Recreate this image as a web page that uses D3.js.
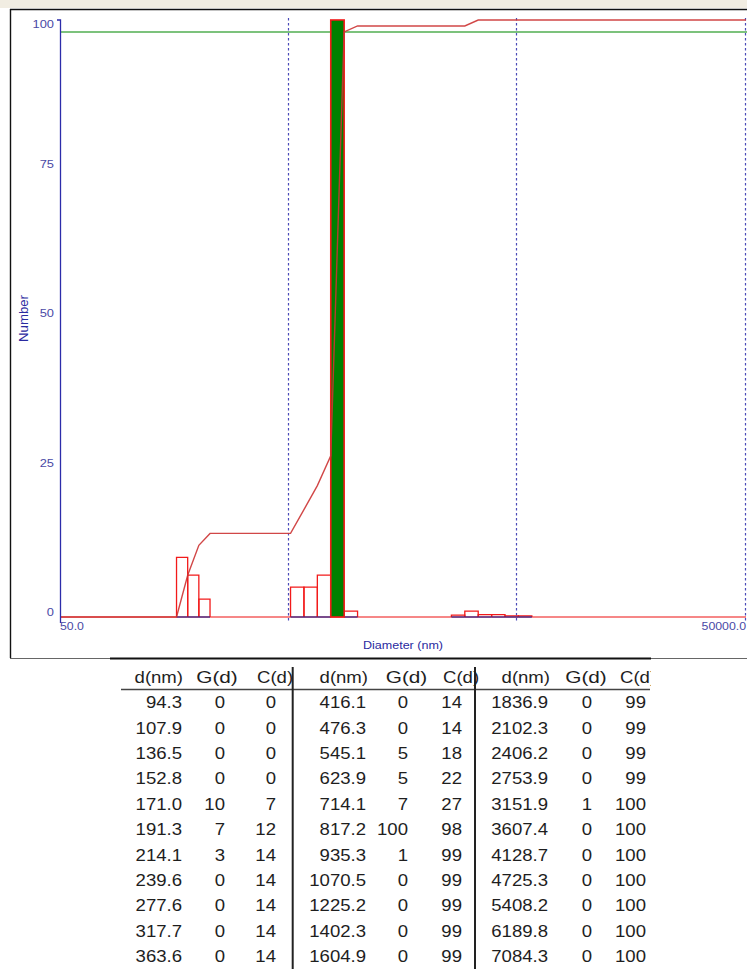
<!DOCTYPE html>
<html>
<head>
<meta charset="utf-8">
<script src="https://cdn.jsdelivr.net/npm/d3@7"></script>
<style>
  body { margin: 0; background: #fff; }
  svg { display: block; }
</style>
</head>
<body>
<svg id="chart" width="747" height="969"></svg>
<script>
// Size classes (nm), number distribution G(d) and cumulative C(d)
const diameters = [94.3, 107.9, 136.5, 152.8, 171.0, 191.3, 214.1, 239.6, 277.6, 317.7, 363.6,
                   416.1, 476.3, 545.1, 623.9, 714.1, 817.2, 935.3, 1070.5, 1225.2, 1402.3, 1604.9,
                   1836.9, 2102.3, 2406.2, 2753.9, 3151.9, 3607.4, 4128.7, 4725.3, 5408.2, 6189.8, 7084.3];
const numberG = [0, 0, 0, 0, 10, 7, 3, 0, 0, 0, 0,
                 0, 0, 5, 5, 7, 100, 1, 0, 0, 0, 0,
                 0, 0, 0, 0.3, 1, 0.4, 0.4, 0.2, 0.2, 0, 0];
const cumulativeC = [0, 0, 0, 0, 7, 12, 14, 14, 14, 14, 14,
                     14, 14, 18, 22, 27, 98, 99, 99, 99, 99, 99,
                     99, 99, 99, 99, 100, 100, 100, 100, 100, 100, 100];
const selectedDiameter = 817.2;
const xDomain = [50, 50000];
const xTickLabels = ["50.0", "50000.0"];
const yTicks = [0, 25, 50, 75, 100];
const guideDiameters = [500, 5000, 50000];
const tableHeaders = ["d(nm)", "G(d)", "C(d)"];
const rowsPerBlock = 11;

const svg = d3.select("#chart");
const FONT = "'Liberation Sans', Arial, sans-serif";
const NAVY = "#2c2caa";
const LABEL = "#4a4aa6";

// text helper: places a label with a slight horizontal stretch
function label(parent, tx, ty, str, opts) {
  const o = Object.assign({ anchor: "start", size: 11, fill: "#000", sx: 1.12, rotate: 0 }, opts || {});
  return parent.append("text")
    .attr("transform", `translate(${tx},${ty})` + (o.rotate ? ` rotate(${o.rotate})` : "") + ` scale(${o.sx},1)`)
    .attr("text-anchor", o.anchor).attr("dominant-baseline", "central")
    .attr("font-family", FONT).attr("font-size", o.size).attr("fill", o.fill)
    .text(str);
}

const x = d3.scaleLog().domain(xDomain).range([60, 746]);
const y = d3.scaleLinear().domain([0, 100]).range([617, 20]);

// frame of the graph panel
svg.append("rect").attr("x", 0).attr("y", 0).attr("width", 747).attr("height", 8).attr("fill", "#f1ede2");
svg.append("line").attr("x1", 10).attr("x2", 747).attr("y1", 9.5).attr("y2", 9.5)
  .attr("stroke", "#111").attr("stroke-width", 1.6);
svg.append("line").attr("x1", 10.5).attr("x2", 10.5).attr("y1", 9).attr("y2", 658)
  .attr("stroke", "#111").attr("stroke-width", 1.4);
svg.append("line").attr("x1", 10).attr("x2", 747).attr("y1", 658.5).attr("y2", 658.5)
  .attr("stroke", "#666").attr("stroke-width", 1);

// bin edges: geometric midpoints between neighbouring classes
const n = diameters.length;
const edges = diameters.map((d, i) => {
  const lo = i > 0 ? Math.sqrt(diameters[i - 1] * d) : d / Math.sqrt(diameters[1] / d);
  const hi = i < n - 1 ? Math.sqrt(d * diameters[i + 1]) : d * Math.sqrt(d / diameters[i - 1]);
  return [lo, hi];
});
const bins = diameters.map((d, i) => ({ d, g: numberG[i], c: cumulativeC[i], lo: edges[i][0], hi: edges[i][1] }));

// dotted decade guides
svg.append("g").selectAll("line").data(guideDiameters).join("line")
  .attr("x1", d => Math.round(x(d)) - 0.5).attr("x2", d => Math.round(x(d)) - 0.5)
  .attr("y1", 18).attr("y2", 621)
  .attr("stroke", "#4a4ab8").attr("stroke-width", 1.2).attr("stroke-dasharray", "2.5,2.5");

// reference level at the selected class' cumulative value
const selected = bins.find(b => b.d === selectedDiameter);
svg.append("line").attr("x1", 60).attr("x2", 747)
  .attr("y1", y(selected.c)).attr("y2", y(selected.c))
  .attr("stroke", "#7cc27c").attr("stroke-width", 2);

// baseline
svg.append("line").attr("x1", 60).attr("x2", 746).attr("y1", y(0)).attr("y2", y(0))
  .attr("stroke", "#ee1111").attr("stroke-width", 1.2);

// distribution bars (outlined)
const shown = bins.filter(b => b.g > 0 && b.d !== selectedDiameter);
const barG = svg.append("g");
barG.selectAll("path.bar").data(shown).join("path")
  .attr("class", "bar")
  .attr("d", b => `M${x(b.lo)},${y(0)}V${y(b.g)}H${x(b.hi)}V${y(0)}`)
  .attr("fill", "none").attr("stroke", "#f21a1a").attr("stroke-width", 1.3);
barG.selectAll("line.base").data(shown).join("line")
  .attr("class", "base")
  .attr("x1", b => x(b.lo)).attr("x2", b => x(b.hi)).attr("y1", y(0)).attr("y2", y(0))
  .attr("stroke", "#262690").attr("stroke-width", 1.2);

// selected class
svg.append("rect")
  .attr("x", x(selected.lo)).attr("y", y(selected.g))
  .attr("width", x(selected.hi) - x(selected.lo)).attr("height", y(0) - y(selected.g))
  .attr("fill", "#008000").attr("stroke", "#f21a1a").attr("stroke-width", 1.6);

// cumulative curve
const cumPts = [[xDomain[0], 0], [bins[0].lo, 0]]
  .concat(bins.map(b => [b.hi, b.c]))
  .concat([[xDomain[1], cumulativeC[n - 1]]]);
svg.append("path")
  .attr("d", d3.line().x(p => x(p[0])).y(p => y(p[1]))(cumPts))
  .attr("fill", "none").attr("stroke", "#cc3333").attr("stroke-width", 1.4)
  .attr("stroke-opacity", 0.9);

// y axis
svg.append("path").attr("d", `M57,${y(100)}H60.5V${y(0) + 6}`)
  .attr("fill", "none").attr("stroke", NAVY).attr("stroke-width", 1.3);
const yLab = svg.append("g");
yTicks.forEach(v => label(yLab, 54, Math.max(y(v) - 5, 24), v, { anchor: "end", size: 11.5, fill: LABEL }));
label(svg, 24, y(50), "Number", { anchor: "middle", size: 12, fill: "#2a2aa0", rotate: -90, sx: 1.1 });

// x labels
label(svg, x(xDomain[0]), 626, xTickLabels[0], { anchor: "start", size: 11, fill: LABEL });
label(svg, x(xDomain[1]), 626, xTickLabels[1], { anchor: "end", size: 11, fill: LABEL });
label(svg, (x.range()[0] + x.range()[1]) / 2, 645, "Diameter (nm)", { anchor: "middle", size: 11, fill: "#2a2aa0", sx: 1.14 });

// data table
const defs = svg.append("defs");
defs.append("clipPath").attr("id", "tableClip")
  .append("rect").attr("x", 0).attr("y", 655).attr("width", 651).attr("height", 320);
const table = svg.append("g").attr("clip-path", "url(#tableClip)");

table.append("line").attr("x1", 110).attr("x2", 657).attr("y1", 658.5).attr("y2", 658.5)
  .attr("stroke", "#111").attr("stroke-width", 2);
table.append("line").attr("x1", 121).attr("x2", 650).attr("y1", 689.5).attr("y2", 689.5)
  .attr("stroke", "#444").attr("stroke-width", 1.4);
[292.7, 475].forEach(sx => {
  table.append("line").attr("x1", sx).attr("x2", sx).attr("y1", 667).attr("y2", 969)
    .attr("stroke", "#222").attr("stroke-width", 2);
});

const blocks = [
  { dRight: 182, gRight: 225, cRight: 276, hd: 183, hg: 217, hc: 257 },
  { dRight: 366, gRight: 408, cRight: 462, hd: 368, hg: 406.5, hc: 443 },
  { dRight: 548, gRight: 592, cRight: 646, hd: 550, hg: 586, hc: 620 }
];
const cellOpts = a => ({ anchor: a, size: 16, fill: "#1e1e1e", sx: 1.16 });
blocks.forEach((blk, k) => {
  label(table, blk.hd, 677, tableHeaders[0], cellOpts("end"));
  label(table, blk.hg, 677, tableHeaders[1], Object.assign(cellOpts("middle"), { sx: 1.3 }));
  label(table, blk.hc, 677, tableHeaders[2], cellOpts("start"));
  for (let i = 0; i < rowsPerBlock; i++) {
    const b = bins[k * rowsPerBlock + i];
    const ry = 702.7 + i * 25.4;
    label(table, blk.dRight, ry, d3.format(".1f")(b.d), cellOpts("end"));
    label(table, blk.gRight, ry, d3.format(".0f")(b.g), cellOpts("end"));
    label(table, blk.cRight, ry, d3.format(".0f")(b.c), cellOpts("end"));
  }
});
</script>
</body>
</html>
